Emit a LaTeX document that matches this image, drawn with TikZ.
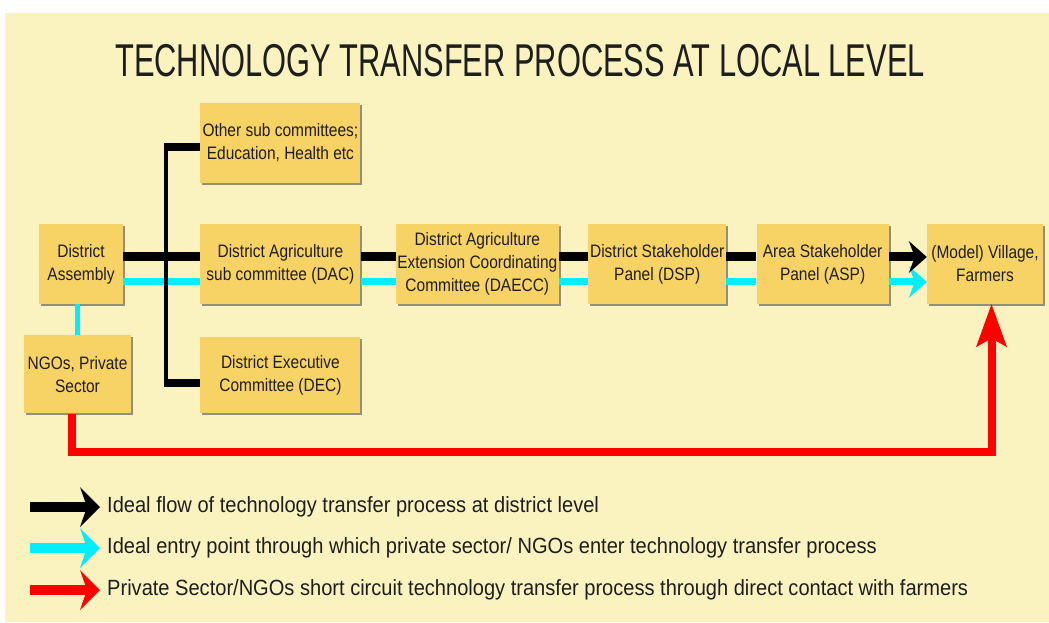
\documentclass[tikz,border=0pt]{standalone}
\usepackage{fontspec}
\setmainfont{Liberation Sans}
\newfontfamily\titlefont[FakeStretch=0.67]{Liberation Sans}
\newfontfamily\boxfont[FakeStretch=0.86]{Liberation Sans}
\newfontfamily\keyfont[FakeStretch=0.912]{Liberation Sans}
\usetikzlibrary{arrows.meta,positioning,shadows}
\definecolor{paper}{RGB}{250,243,192}
\definecolor{boxfill}{RGB}{247,210,100}
\definecolor{entry}{RGB}{0,238,255}
\definecolor{bypass}{RGB}{255,0,0}
\definecolor{ink}{RGB}{30,30,30}
\tikzstyle{unit} = [
    rectangle,
    fill=boxfill,
    minimum width=160pt,
    minimum height=80pt,
    inner sep=0pt,
    align=center,
    text=ink,
    font=\boxfont\fontsize{18}{23}\selectfont,
    drop shadow={shadow xshift=2pt, shadow yshift=-2pt, opacity=0.55, fill=black!75}
]
\tikzstyle{flow} = [
    line width=9pt,
    draw=black
]
\tikzstyle{entryline} = [
    line width=7pt,
    draw=entry
]

\begin{document}
\begin{tikzpicture}[
        x=1pt, y=1pt,
        stub/.style={line width=8pt, draw=black},
        spine/.style={line width=4pt, draw=black},
        shortcut/.style={line width=8pt, draw=bypass, line join=miter,
            -{Stealth[length=43pt, width=31pt, inset=9pt, line width=0pt]}},
        headtip/.style={-{Stealth[length=18pt, width=32pt, inset=6pt, line width=0pt]}},
        keytip/.style={line width=10pt, -{Stealth[length=20pt, width=40pt, inset=7pt, line width=0pt]}},
        key/.style={anchor=west, inner sep=0pt, text=ink,
            font=\keyfont\fontsize{22}{26}\selectfont}
    ]
    \useasboundingbox (0,0) rectangle (1049,622);
    \fill[white] (0,0) rectangle (1049,622);
    \fill[paper] (5,0) rectangle (1049,609);

    \node[text=ink, font=\titlefont\fontsize{46}{50}\selectfont] (title) at (520,561)
        {TECHNOLOGY TRANSFER PROCESS AT LOCAL LEVEL};

    % boxes
    \node[unit, minimum width=84pt] (da) at (81,358) {District\\Assembly};
    \node[unit, right=77pt of da] (dac) {District Agriculture\\sub committee (DAC)};
    \node[unit, above=41pt of dac] (other) {Other sub committees;\\Education, Health etc};
    \node[unit, minimum height=76pt, below=33pt of dac] (dec) {District Executive\\Committee (DEC)};
    \node[unit, minimum width=107pt, minimum height=78pt, below=31pt of da, xshift=-3.5pt] (ngo) {NGOs, Private\\Sector};
    \node[unit, minimum width=163pt, right=35pt of dac] (daecc) {District Agriculture\\Extension Coordinating\\Committee (DAECC)};
    \node[unit, minimum width=138pt, right=29pt of daecc] (dsp) {District Stakeholder\\Panel (DSP)};
    \node[unit, minimum width=132pt, right=30pt of dsp] (asp) {Area Stakeholder\\Panel (ASP)};
    \node[unit, minimum width=116pt, right=38pt of asp] (village) {(Model) Village,\\Farmers};

    % entry route
    \draw[entryline, line width=5pt] ([xshift=-4pt]da.south) -- ([xshift=-4pt]da.south |- ngo.north);
    \foreach \a/\b in {da/dac, dac/daecc, daecc/dsp, dsp/asp}
        \draw[entryline] ([yshift=-18pt]\a.east) -- ([yshift=-18pt]\b.west);
    \draw[entryline, headtip] ([yshift=-18pt]asp.east) -- ([yshift=-18pt]village.west);

    % district branches
    \coordinate (top) at ([xshift=-36pt, yshift=-4.5pt]other.west);
    \coordinate (bot) at ([xshift=-36pt, yshift=-7.5pt]dec.west);
    \draw[stub] (top) -- ([yshift=-4.5pt]other.west);
    \draw[stub] (bot) -- ([yshift=-7.5pt]dec.west);
    \draw[spine] ([xshift=2pt, yshift=4pt]top) -- ([xshift=2pt, yshift=-4pt]bot);

    % ideal flow
    \foreach \a/\b in {da/dac, dac/daecc, daecc/dsp, dsp/asp}
        \draw[flow] ([yshift=7pt]\a.east) -- ([yshift=7pt]\b.west);
    \draw[flow, headtip] ([yshift=7pt]asp.east) -- ([yshift=7pt]village.west);

    % short circuit
    \draw[shortcut] ([xshift=-5.5pt]ngo.south) -- ++(0,-38pt) -| ([xshift=6.5pt]village.south);

    % legend
    \node[key] (key1) at (107,115) {Ideal flow of technology transfer process at district level};
    \node[key] (key2) at (107,74) {Ideal entry point through which private sector/ NGOs enter technology transfer process};
    \node[key] (key3) at (107,32) {Private Sector/NGOs short circuit technology transfer process through direct contact with farmers};
    \draw[keytip, draw=black] ([xshift=-77pt]key1.west) -- ([xshift=-7pt]key1.west);
    \draw[keytip, draw=entry] ([xshift=-77pt]key2.west) -- ([xshift=-7pt]key2.west);
    \draw[keytip, draw=bypass] ([xshift=-77pt]key3.west) -- ([xshift=-7pt]key3.west);
\end{tikzpicture}
\end{document}
